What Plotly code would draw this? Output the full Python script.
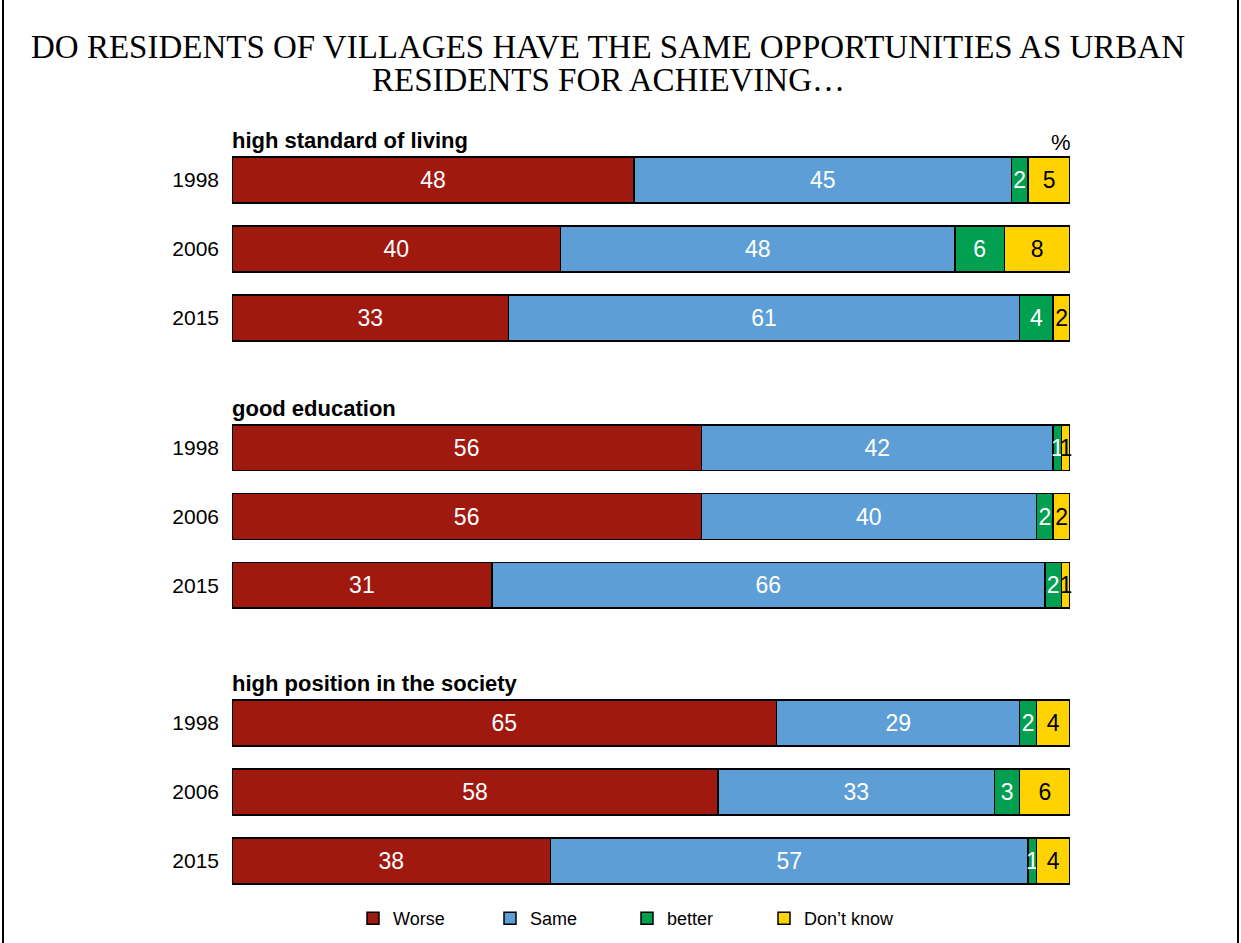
import plotly.graph_objects as go

years = ["1998", "2006", "2015"]
groups = ["high standard of living", "good education", "high position in the society"]
series_names = ["Worse", "Same", "better", "Don\u2019t know"]
title_lines = ["DO RESIDENTS OF VILLAGES HAVE THE SAME OPPORTUNITIES AS URBAN",
               "RESIDENTS FOR ACHIEVING\u2026"]

worse = [[48, 40, 33], [56, 56, 31], [65, 58, 38]]
same = [[45, 48, 61], [42, 40, 66], [29, 33, 57]]
better = [[2, 6, 4], [1, 2, 2], [2, 3, 1]]
dontknow = [[5, 8, 2], [1, 2, 1], [4, 6, 4]]

colors = ["#A0190F", "#5E9ED6", "#00A050", "#FFD300"]
text_colors = ["white", "white", "white", "black"]

SANS = "Liberation Sans, Arial"
W, H = 1241, 943
x0, x1 = 232 / W, 1070 / W
# vertical extents (pixels from top) for each group's plot area
y_px = [(145.5, 352.5), (413.5, 619.5), (688.5, 895.5)]

fig = go.Figure()
all_series = [worse, same, better, dontknow]
for g in range(3):
    xa = "x" if g == 0 else f"x{g+1}"
    ya = "y" if g == 0 else f"y{g+1}"
    for s, name in enumerate(series_names):
        vals = all_series[s][g]
        fig.add_trace(go.Bar(
            y=years, x=vals, orientation="h", name=name,
            marker=dict(color=colors[s], line=dict(color="black", width=1.5)),
            text=[str(v) for v in vals], textposition="inside",
            insidetextanchor="middle", textangle=0,
            textfont=dict(color=text_colors[s], size=23, family=SANS),
            xaxis=xa, yaxis=ya, showlegend=(g == 0),
            cliponaxis=False,
        ))
    top, bot = y_px[g]
    xkey = "xaxis" if g == 0 else f"xaxis{g+1}"
    ykey = "yaxis" if g == 0 else f"yaxis{g+1}"
    fig.layout[xkey] = dict(domain=[x0, x1], range=[0, 100], visible=False, anchor=ya)
    fig.layout[ykey] = dict(domain=[1 - bot / H, 1 - top / H], autorange="reversed",
                            type="category", anchor=xa, showline=False, showgrid=False,
                            ticks="", ticklabelstandoff=12,
                            tickfont=dict(size=21, color="black", family=SANS))
    fig.add_annotation(text=f"<b>{groups[g]}</b>", xref="paper", yref="paper",
                       x=x0 - 2 / W, y=1 - (top - 5.5) / H, xanchor="left", yanchor="middle",
                       showarrow=False,
                       font=dict(size=22, color="black", family=SANS))

fig.add_annotation(text="%", xref="paper", yref="paper", x=1073 / W, y=1 - 143 / H,
                   xanchor="right", yanchor="middle", showarrow=False,
                   font=dict(size=22, color="black", family=SANS))

for i, line in enumerate(title_lines):
    fig.add_annotation(text=line, xref="paper", yref="paper", x=608 / W,
                       y=1 - (47 + 33 * i) / H,
                       xanchor="center", yanchor="middle", showarrow=False,
                       font=dict(size=33, color="black", family="Liberation Serif, Times New Roman"))

fig.add_shape(type="line", xref="paper", yref="paper", x0=3 / W, x1=3 / W, y0=0, y1=1,
              line=dict(color="black", width=2))
fig.add_shape(type="line", xref="paper", yref="paper", x0=1238 / W, x1=1238 / W, y0=0, y1=1,
              line=dict(color="black", width=2))

fig.update_layout(
    width=W, height=H, barmode="stack", barnorm="percent", bargap=0.333,
    margin=dict(l=0, r=0, t=0, b=0),
    paper_bgcolor="white", plot_bgcolor="white",
    uniformtext=dict(mode="show", minsize=23),
    legend=dict(orientation="h", x=353 / W, y=1 - 900 / H, xanchor="left", yanchor="top",
                entrywidth=92, entrywidthmode="pixels", itemwidth=30,
                font=dict(size=18, color="black", family=SANS),
                traceorder="normal"),
)

fig.write_html("out.html")
